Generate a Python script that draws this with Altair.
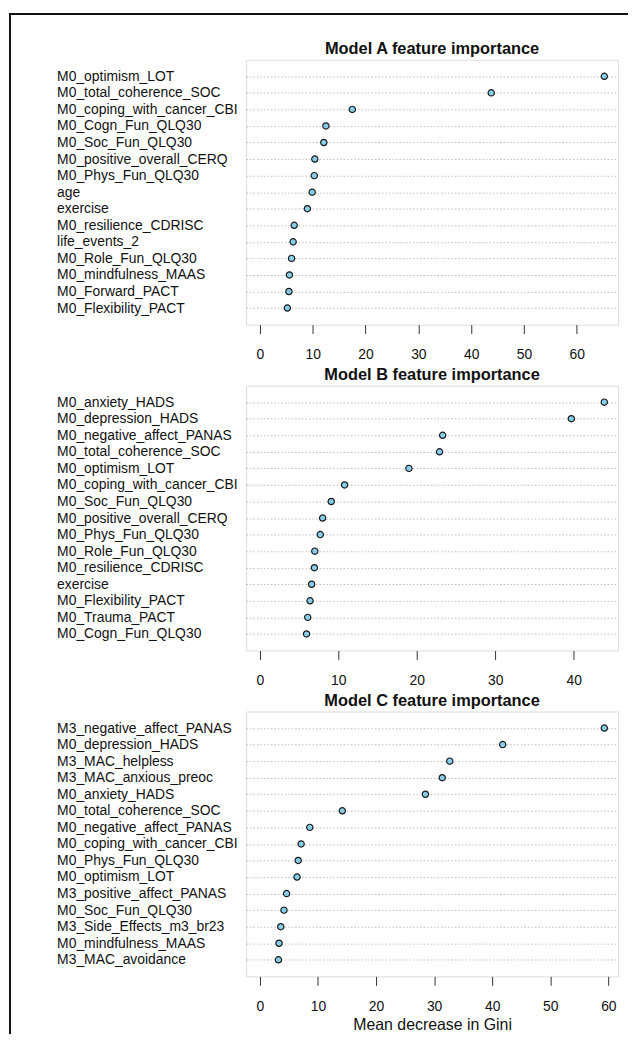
import altair as alt
import pandas as pd

# ---- data ----
labels_a = ["M0_optimism_LOT", "M0_total_coherence_SOC", "M0_coping_with_cancer_CBI",
            "M0_Cogn_Fun_QLQ30", "M0_Soc_Fun_QLQ30", "M0_positive_overall_CERQ",
            "M0_Phys_Fun_QLQ30", "age", "exercise", "M0_resilience_CDRISC",
            "life_events_2", "M0_Role_Fun_QLQ30", "M0_mindfulness_MAAS",
            "M0_Forward_PACT", "M0_Flexibility_PACT"]
values_a = [65.2, 43.8, 17.5, 12.5, 12.1, 10.4, 10.3, 9.9, 9.0, 6.5, 6.3, 6.0, 5.6, 5.5, 5.2]

labels_b = ["M0_anxiety_HADS", "M0_depression_HADS", "M0_negative_affect_PANAS",
            "M0_total_coherence_SOC", "M0_optimism_LOT", "M0_coping_with_cancer_CBI",
            "M0_Soc_Fun_QLQ30", "M0_positive_overall_CERQ", "M0_Phys_Fun_QLQ30",
            "M0_Role_Fun_QLQ30", "M0_resilience_CDRISC", "exercise",
            "M0_Flexibility_PACT", "M0_Trauma_PACT", "M0_Cogn_Fun_QLQ30"]
values_b = [43.9, 39.7, 23.3, 22.9, 19.0, 10.8, 9.1, 8.0, 7.7, 7.0, 6.95, 6.6, 6.4, 6.1, 5.95]

labels_c = ["M3_negative_affect_PANAS", "M0_depression_HADS", "M3_MAC_helpless",
            "M3_MAC_anxious_preoc", "M0_anxiety_HADS", "M0_total_coherence_SOC",
            "M0_negative_affect_PANAS", "M0_coping_with_cancer_CBI", "M0_Phys_Fun_QLQ30",
            "M0_optimism_LOT", "M3_positive_affect_PANAS", "M0_Soc_Fun_QLQ30",
            "M3_Side_Effects_m3_br23", "M0_mindfulness_MAAS", "M3_MAC_avoidance"]
values_c = [59.3, 41.8, 32.7, 31.4, 28.5, 14.2, 8.6, 7.1, 6.6, 6.4, 4.6, 4.15, 3.6, 3.3, 3.2]

titles = ["Model A feature importance", "Model B feature importance", "Model C feature importance"]
ticks_a = [0, 10, 20, 30, 40, 50, 60]
ticks_b = [0, 10, 20, 30, 40]
ticks_c = [0, 10, 20, 30, 40, 50, 60]
x_title = "Mean decrease in Gini"

FONT = "Liberation Sans"
W, H = 375, 267


def panel(labels, values, title, ticks, show_xtitle=False):
    df = pd.DataFrame({"feature": labels, "value": values})
    vmax = max(values)
    xaxis = alt.Axis(values=ticks, grid=False, domain=False, tickSize=9, tickColor="#333",
                     tickWidth=1, labelFontSize=14, labelPadding=14, labelColor="#111",
                     labelFont=FONT, format="d",
                     title=x_title if show_xtitle else None,
                     titleFontSize=16, titleFontWeight="normal", titleFont=FONT,
                     titleColor="#111", titlePadding=4)
    yaxis = alt.Axis(title=None, domain=False, ticks=False, labelAlign="left",
                     labelPadding=191, labelFontSize=14, labelFont=FONT,
                     labelColor="#111", labelLimit=400, grid=True,
                     gridDash=[1.5, 2], gridColor="#bdbdbd", gridWidth=1)
    pts = alt.Chart(df).mark_point(filled=True, shape="circle", size=40, fill="#87CEEB",
                                   stroke="#1a1a1a", strokeWidth=1.2, opacity=1).encode(
        x=alt.X("value:Q", axis=xaxis,
                scale=alt.Scale(domain=[-0.04 * vmax, 1.04 * vmax], nice=False, zero=False)),
        y=alt.Y("feature:N", sort=labels, axis=yaxis, scale=alt.Scale(padding=1)),
    )
    if title is None:
        return pts.properties(width=W, height=H)
    return pts.properties(
        width=W, height=H,
        title=alt.TitleParams(title, fontSize=16.5, fontWeight="bold", font=FONT,
                              anchor="middle", baseline="alphabetic", offset=-11,
                              frame="group", color="#111"),
    )


one = pd.DataFrame({"k": [0]})
left_bar = alt.Chart(one).mark_rect(fill="#111", strokeWidth=0).encode(
    x=alt.value(-239), x2=alt.value(-237), y=alt.value(-47), y2=alt.value(982))
top_bar = alt.Chart(one).mark_rect(fill="#111", strokeWidth=0).encode(
    x=alt.value(-239), x2=alt.value(385), y=alt.value(-47), y2=alt.value(-45))
title_a = alt.Chart(one).mark_text(fontSize=16.5, fontWeight="bold", font=FONT,
                                   color="#111", align="center", baseline="middle").encode(
    x=alt.value(W / 2), y=alt.value(-11), text=alt.value(titles[0]))

pa = panel(labels_a, values_a, None, ticks_a)
pa = alt.layer(left_bar, top_bar, title_a, pa).properties(width=W, height=H)
pb = panel(labels_b, values_b, titles[1], ticks_b)
pc = panel(labels_c, values_c, titles[2], ticks_c, show_xtitle=True)

chart = alt.vconcat(pa, pb, pc, spacing=61.5, bounds="flush").resolve_scale(
    x="independent", y="independent").properties(padding=0).configure_view(
    stroke="#333", strokeWidth=1.8).configure(background="white")

chart.save("out.html", embed_options={"renderer": "svg", "actions": False})
